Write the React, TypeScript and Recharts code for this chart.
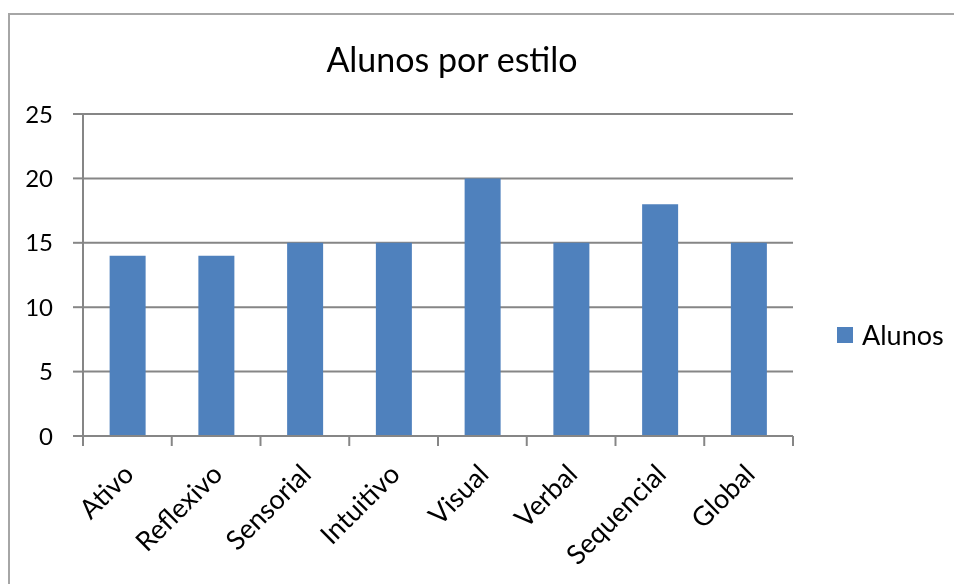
import { BarChart, Bar, XAxis, YAxis, CartesianGrid, Legend } from 'recharts';

const categories = ['Ativo', 'Reflexivo', 'Sensorial', 'Intuitivo', 'Visual', 'Verbal', 'Sequencial', 'Global'];
const alunos = [14, 14, 15, 15, 20, 15, 18, 15];
const yTicks = [0, 5, 10, 15, 20, 25];

const FONT = 'Lato, "Open Sans", sans-serif';
const GRID = '#868686';
const BAR = '#4f81bd';

const data = categories.map((c, i) => ({ categoria: c, Alunos: alunos[i] }));

// tick marks sit between categories, like the original spreadsheet chart
const CategoryTick = (props: any) => {
  const { x, y, payload, index } = props;
  const half = payload && payload.offset ? payload.offset : 44;
  const lx = x + 8;
  const ly = y + 40;
  return (
    <g>
      <line x1={x - half} y1={y} x2={x - half} y2={y + 10} stroke={GRID} strokeWidth={2} />
      {index === categories.length - 1 && (
        <line x1={x + half} y1={y} x2={x + half} y2={y + 10} stroke={GRID} strokeWidth={2} />
      )}
      <text
        x={lx}
        y={ly}
        textAnchor="end"
        transform={`rotate(-45 ${lx} ${ly})`}
        fontFamily={FONT}
        fontSize={27}
        fill="#000"
      >
        {payload.value}
      </text>
    </g>
  );
};

const renderLegend = () => (
  <div style={{ display: 'flex', alignItems: 'center', fontFamily: FONT, fontSize: 27, color: '#000' }}>
    <span style={{ width: 16, height: 16, background: BAR, display: 'inline-block', marginRight: 9 }} />
    <span>Alunos</span>
  </div>
);

const App = () => {
  return (
    <div style={{ position: 'fixed', left: 8, top: 8, width: 946, height: 576, overflow: 'hidden' }}>
      <div
        style={{
          position: 'absolute',
          left: 0,
          top: 5,
          width: 946,
          height: 571,
          borderTop: '2px solid #a6a6a6',
          borderLeft: '2px solid #a6a6a6',
          boxSizing: 'border-box',
        }}
      />
      <div
        style={{
          position: 'absolute',
          left: 244,
          top: 34,
          width: 400,
          textAlign: 'center',
          fontFamily: FONT,
          fontSize: 34,
          lineHeight: '34px',
          color: '#000',
        }}
      >
        Alunos por estilo
      </div>
      <div style={{ position: 'absolute', left: 0, top: 0 }}>
        <BarChart
          width={946}
          height={576}
          data={data}
          margin={{ top: 106, right: 161, left: 0, bottom: 8 }}
          barCategoryGap="30%"
        >
          <CartesianGrid horizontal vertical={false} stroke={GRID} strokeWidth={2} />
          <XAxis
            dataKey="categoria"
            height={140}
            axisLine={{ stroke: GRID, strokeWidth: 2 }}
            tickLine={false}
            tickSize={0}
            tickMargin={0}
            interval={0}
            tick={<CategoryTick />}
          />
          <YAxis
            width={75}
            domain={[0, 25]}
            ticks={yTicks}
            interval={0}
            axisLine={{ stroke: GRID, strokeWidth: 2 }}
            tickLine={{ stroke: GRID, strokeWidth: 2 }}
            tickSize={10}
            tickMargin={20}
            tick={{ fontFamily: FONT, fontSize: 24, fill: '#000' }}
          />
          <Legend
            layout="horizontal"
            align="center"
            verticalAlign="middle"
            content={renderLegend}
            wrapperStyle={{ left: 829, top: 310, width: 'auto' }}
          />
          <Bar dataKey="Alunos" fill={BAR} isAnimationActive={false} />
        </BarChart>
      </div>
    </div>
  );
};

export default App;
